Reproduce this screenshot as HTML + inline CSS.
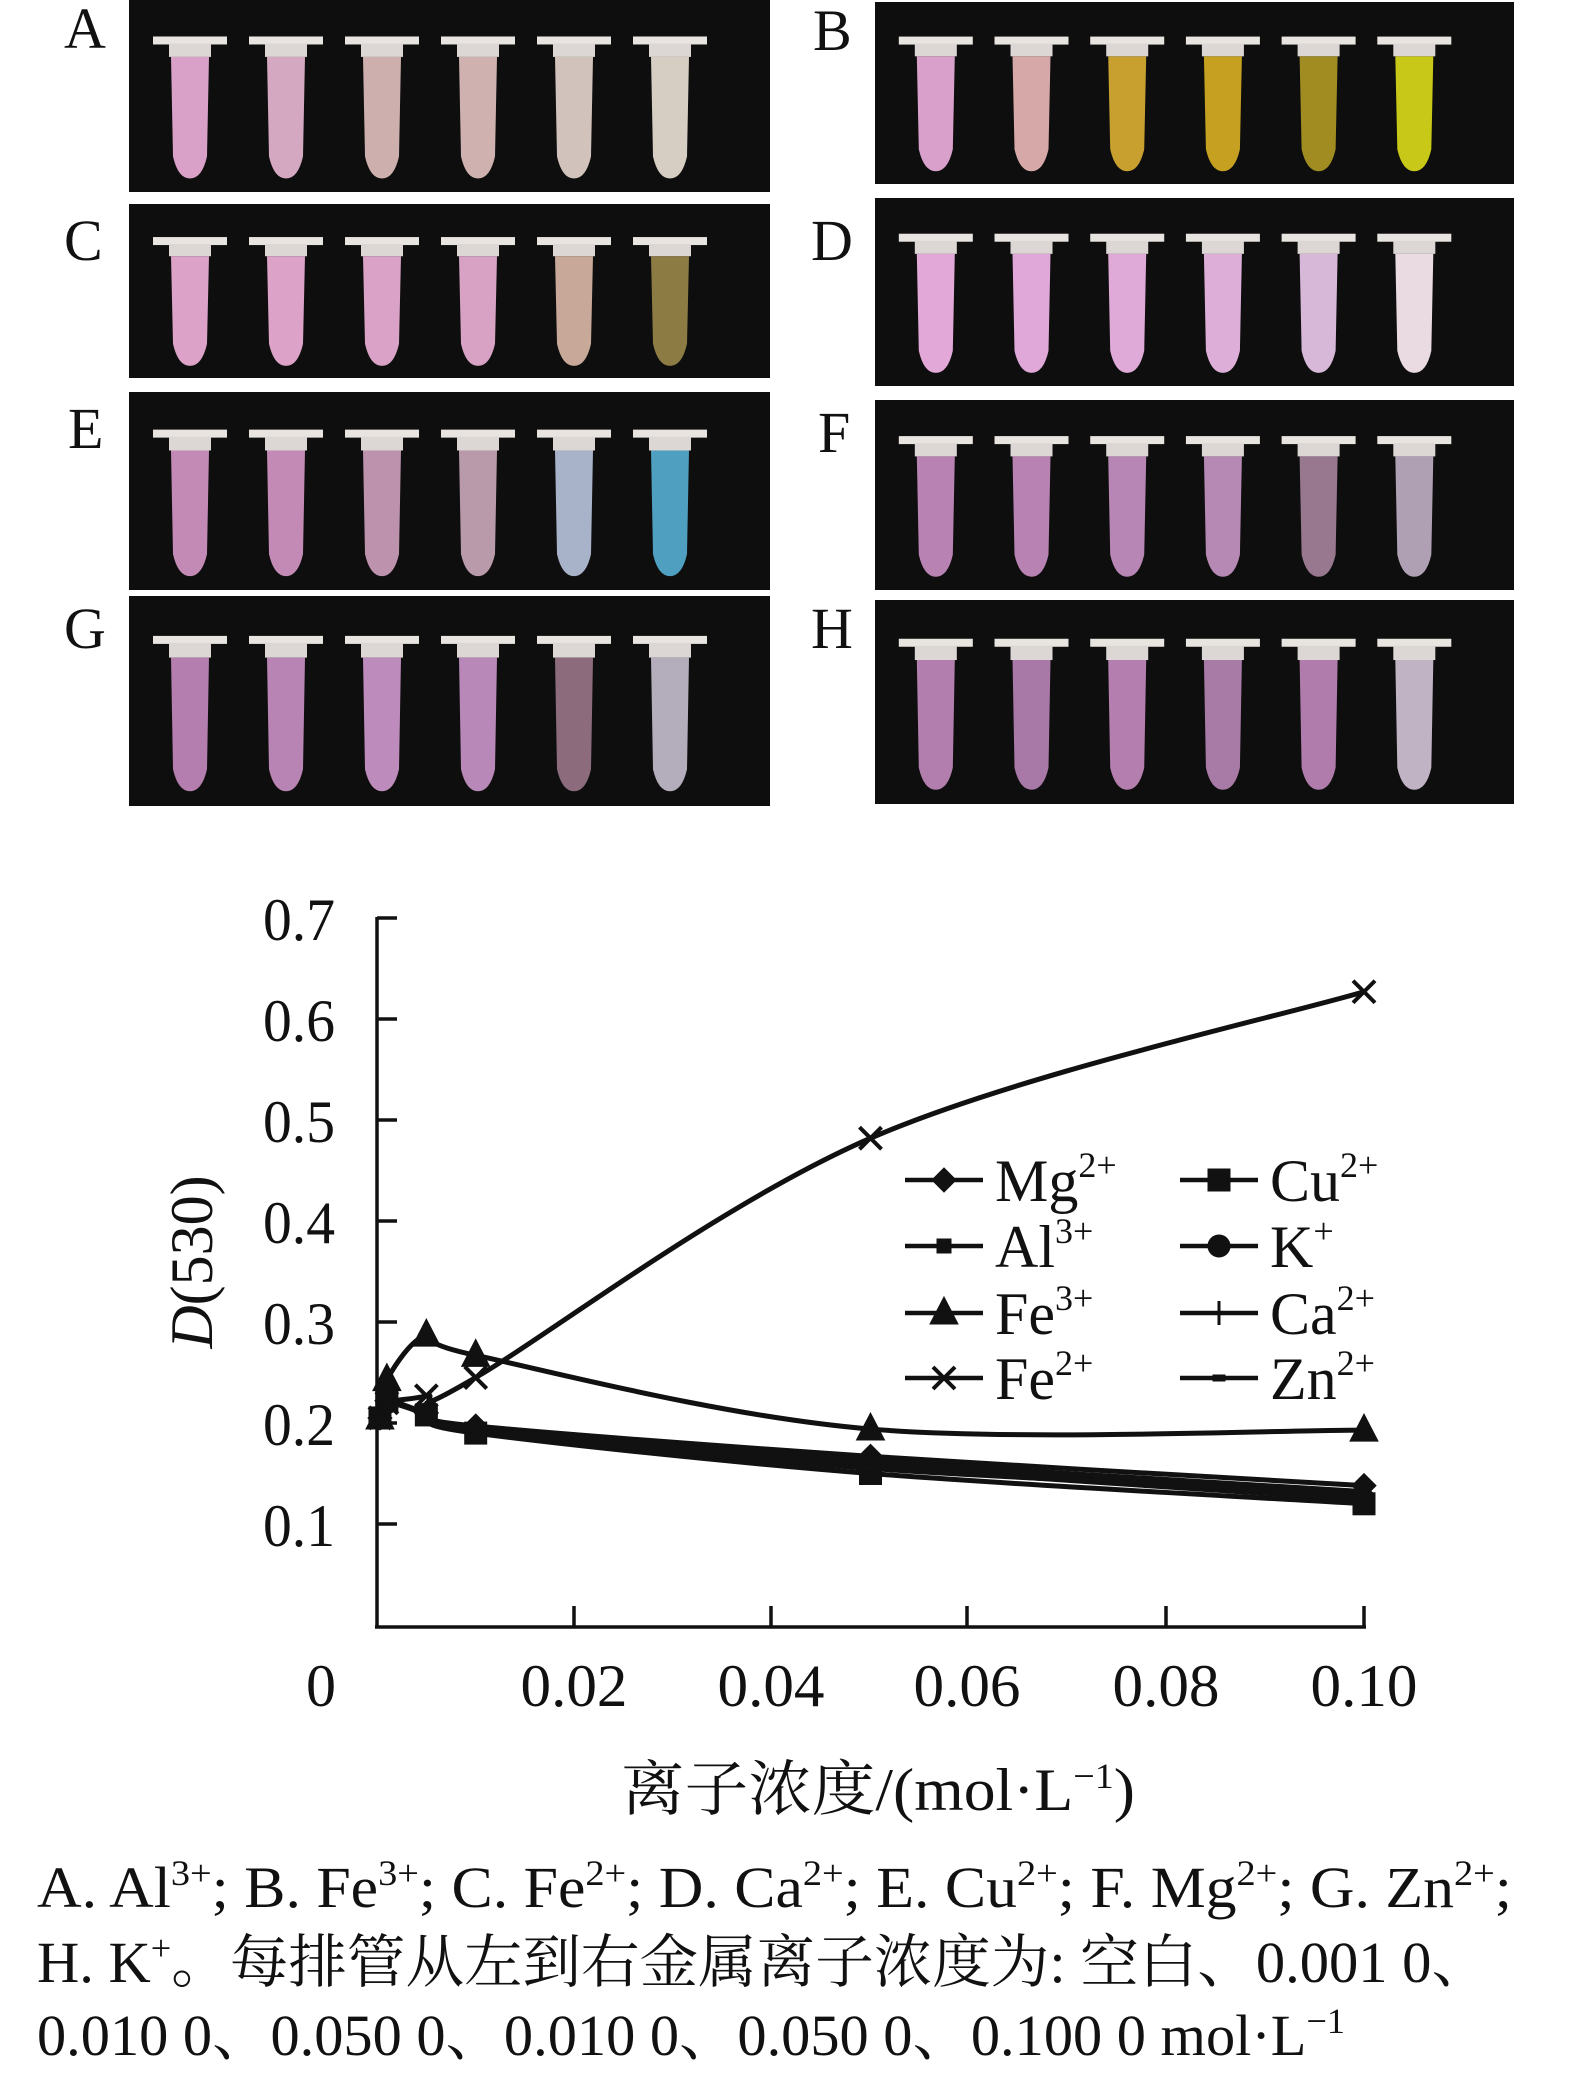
<!DOCTYPE html>
<html><head><meta charset="utf-8">
<style>html,body{margin:0;padding:0;background:#fff;}svg{display:block}</style>
</head><body>
<svg id="s" xmlns="http://www.w3.org/2000/svg" width="1575" height="2077" viewBox="0 0 1575 2077" font-family="Liberation Serif, Noto Serif CJK SC, serif">
<g id="photos"></g>
<g font-size="58" fill="#111">
<text x="64" y="48">A</text><text x="813" y="50">B</text>
<text x="64" y="260">C</text><text x="811" y="260">D</text>
<text x="68" y="448">E</text><text x="818" y="452">F</text>
<text x="64" y="648">G</text><text x="811" y="648">H</text>
</g>
<g id="chart" stroke="#111" fill="none" stroke-width="3.5">
<line x1="377" y1="917" x2="377" y2="1627"/>
<line x1="375" y1="1627" x2="1366" y2="1627"/>
</g>
<g id="lines" stroke="#111" fill="none" stroke-width="5"></g>
<g id="marks" fill="#111" stroke="#111"></g>
<g font-size="60" fill="#111">
<text x="335" y="940" text-anchor="end" textLength="72" lengthAdjust="spacingAndGlyphs">0.7</text>
<text x="335" y="1041" text-anchor="end" textLength="72" lengthAdjust="spacingAndGlyphs">0.6</text>
<text x="335" y="1142" text-anchor="end" textLength="72" lengthAdjust="spacingAndGlyphs">0.5</text>
<text x="335" y="1243" text-anchor="end" textLength="72" lengthAdjust="spacingAndGlyphs">0.4</text>
<text x="335" y="1344" text-anchor="end" textLength="72" lengthAdjust="spacingAndGlyphs">0.3</text>
<text x="335" y="1445" text-anchor="end" textLength="72" lengthAdjust="spacingAndGlyphs">0.2</text>
<text x="335" y="1546" text-anchor="end" textLength="72" lengthAdjust="spacingAndGlyphs">0.1</text>
<text x="321" y="1706" text-anchor="middle">0</text>
<text x="574" y="1706" text-anchor="middle" textLength="107" lengthAdjust="spacingAndGlyphs">0.02</text>
<text x="771" y="1706" text-anchor="middle" textLength="107" lengthAdjust="spacingAndGlyphs">0.04</text>
<text x="967" y="1706" text-anchor="middle" textLength="107" lengthAdjust="spacingAndGlyphs">0.06</text>
<text x="1166" y="1706" text-anchor="middle" textLength="107" lengthAdjust="spacingAndGlyphs">0.08</text>
<text x="1364" y="1706" text-anchor="middle" textLength="107" lengthAdjust="spacingAndGlyphs">0.10</text>
<text x="621" y="1810" textLength="514" lengthAdjust="spacingAndGlyphs">离子浓度/(mol·L<tspan dy="-22" font-size="36">−1</tspan><tspan dy="22">)</tspan></text>
<text transform="translate(212,1262) rotate(-90)" text-anchor="middle"><tspan font-style="italic">D</tspan>(530)</text>
</g>
<g id="legend" font-size="60" fill="#111"></g>
<g font-size="58" fill="#111">
<text x="37" y="1907" textLength="1475" lengthAdjust="spacingAndGlyphs">A. Al<tspan dy="-22" font-size="36">3+</tspan><tspan dy="22">; B. Fe</tspan><tspan dy="-22" font-size="36">3+</tspan><tspan dy="22">; C. Fe</tspan><tspan dy="-22" font-size="36">2+</tspan><tspan dy="22">; D. Ca</tspan><tspan dy="-22" font-size="36">2+</tspan><tspan dy="22">; E. Cu</tspan><tspan dy="-22" font-size="36">2+</tspan><tspan dy="22">; F. Mg</tspan><tspan dy="-22" font-size="36">2+</tspan><tspan dy="22">; G. Zn</tspan><tspan dy="-22" font-size="36">2+</tspan><tspan dy="22">;</tspan></text>
<text x="37" y="1982" textLength="1453" lengthAdjust="spacingAndGlyphs">H. K<tspan dy="-22" font-size="36">+</tspan><tspan dy="22">。每排管从左到右金属离子浓度为: 空白、0.001 0、</tspan></text>
<text x="37" y="2055" textLength="1308" lengthAdjust="spacingAndGlyphs">0.010 0、0.050 0、0.010 0、0.050 0、0.100 0 mol·L<tspan dy="-22" font-size="36">−1</tspan></text>
</g>
</svg>
<script>
var NS="http://www.w3.org/2000/svg";
function el(p,t,a){var e=document.createElementNS(NS,t);for(var k in a)e.setAttribute(k,a[k]);p.appendChild(e);return e;}
var P=document.getElementById('photos');
var panels=[
[129,0,641,192,['#d9a0c8','#d4a8c0','#cdb0ae','#cfb2b0','#d2c2bc','#d6cec2']],
[875,2,639,182,['#d9a0cc','#d6a8a8','#c8a030','#c6a020','#a08c20','#c8c818']],
[129,204,641,174,['#dca2c8','#dca2c8','#daa2c6','#d8a2c4','#c8a898','#8c7c44']],
[875,198,639,188,['#e2a8d8','#e0a8d8','#e0aad8','#dcaed8','#d8b8d8','#eadae2']],
[129,392,641,198,['#c48ab6','#c28ab4','#bc92ac','#b89aaa','#a8b2c8','#4e9fc0']],
[875,400,639,190,['#b882b2','#b882b2','#b886b4','#b688b4','#98788e','#b0a0b4']],
[129,596,641,210,['#b47eae','#b884b4','#be8cbc','#b888b8','#8c6c7c','#b4aebc']],
[875,600,639,204,['#b27eae','#a878a6','#b47eae','#a87aa6','#b07cac','#c0b4c4']]];
panels.forEach(function(p){
 var x=p[0],y=p[1],w=p[2],h=p[3],s=w/641;
 el(P,'rect',{x:x,y:y,width:w,height:h,fill:'#0e0e0e'});
 for(var i=0;i<6;i++){
  var cx=x+(61+i*96)*s, top=y+h*0.19, bot=y+h*0.93;
  el(P,'rect',{x:cx-37,y:top,width:74,height:8,fill:'#e8e4e0'});
  el(P,'rect',{x:cx-21,y:top+7,width:42,height:h*0.07,fill:'#dcd6d4'});
  var lt=top+7+h*0.07;
  el(P,'path',{d:'M'+(cx-19)+' '+lt+' L'+(cx+19)+' '+lt+' L'+(cx+17)+' '+(bot-22)+' Q'+(cx+12)+' '+bot+' '+cx+' '+bot+' Q'+(cx-12)+' '+bot+' '+(cx-17)+' '+(bot-22)+' Z',fill:p[4][i]});
 }
});
var C=document.getElementById('chart');
[574,771,967,1166,1364].forEach(function(x){el(C,'line',{x1:x,y1:1627,x2:x,y2:1606});});
for(var k=0;k<7;k++){var yy=918+k*101;el(C,'line',{x1:377,y1:yy,x2:397,y2:yy});}
function X(v){return 377+v*9870;} function Y(v){return 1423-(v-0.2)*1010;}
var xs=[0.0003,0.001,0.005,0.01,0.05,0.1];
var series=[
['tri',[0.205,0.243,0.287,0.267,0.194,0.193]],
['x',[0.205,0.22,0.227,0.245,0.482,0.627]],
['dia',[0.205,0.222,0.21,0.197,0.167,0.138]],
['sq',[0.205,0.222,0.208,0.19,0.15,0.12]],
['sqs',[0.205,0.22,0.21,0.194,0.16,0.127]],
['dot',[0.205,0.22,0.209,0.192,0.157,0.124]],
['plus',[0.205,0.221,0.21,0.195,0.163,0.132]],
['dash',[0.205,0.22,0.209,0.193,0.155,0.13]]];
var L=document.getElementById('lines'),M=document.getElementById('marks');
function spline(pts){var d='M'+pts[0][0]+' '+pts[0][1];for(var i=0;i<pts.length-1;i++){var p0=pts[i-1]||pts[i],p1=pts[i],p2=pts[i+1],p3=pts[i+2]||p2;var t=0.5/3;
d+=' C'+(p1[0]+(p2[0]-p0[0])*t)+' '+(p1[1]+(p2[1]-p0[1])*t)+' '+(p2[0]-(p3[0]-p1[0])*t)+' '+(p2[1]-(p3[1]-p1[1])*t)+' '+p2[0]+' '+p2[1];}return d;}
function mark(g,t,x,y){
 if(t=='tri')el(g,'path',{d:'M'+x+' '+(y-16)+' L'+(x+14)+' '+(y+11)+' L'+(x-14)+' '+(y+11)+' Z'});
 else if(t=='x'){el(g,'path',{d:'M'+(x-11)+' '+(y-11)+' L'+(x+11)+' '+(y+11)+' M'+(x+11)+' '+(y-11)+' L'+(x-11)+' '+(y+11),'stroke-width':4,fill:'none'});}
 else if(t=='dia')el(g,'path',{d:'M'+x+' '+(y-12)+' L'+(x+12)+' '+y+' L'+x+' '+(y+12)+' L'+(x-12)+' '+y+' Z'});
 else if(t=='sq')el(g,'rect',{x:x-11,y:y-11,width:22,height:22});
 else if(t=='sqs')el(g,'rect',{x:x-7,y:y-7,width:14,height:14});
 else if(t=='dot')el(g,'circle',{cx:x,cy:y,r:11});
 else if(t=='plus')el(g,'path',{d:'M'+x+' '+(y-12)+' L'+x+' '+(y+12),'stroke-width':3,fill:'none'});
 else if(t=='dash')el(g,'rect',{x:x-6,y:y-3,width:12,height:6});
}
series.forEach(function(s){var pts=xs.map(function(v,i){return [X(v),Y(s[1][i])];});
 el(L,'path',{d:spline(pts)});pts.forEach(function(p){mark(M,s[0],p[0],p[1]);});});
var G=document.getElementById('legend');
var leg=[['dia','Mg','2+',905,1180],['sqs','Al','3+',905,1246],['tri','Fe','3+',905,1313],['x','Fe','2+',905,1378],
['sq','Cu','2+',1180,1180],['dot','K','+',1180,1246],['plus','Ca','2+',1180,1313],['dash','Zn','2+',1180,1378]];
leg.forEach(function(l){el(G,'line',{x1:l[3],y1:l[4],x2:l[3]+78,y2:l[4],stroke:'#111','stroke-width':4.5});
 var g=el(G,'g',{stroke:'#111'});mark(g,l[0],l[3]+39,l[4]);
 var t=el(G,'text',{x:l[3]+90,y:l[4]+21});t.textContent=l[1];var sp=el(t,'tspan',{dy:-24,'font-size':36});sp.textContent=l[2];});
</script>
</body></html>
